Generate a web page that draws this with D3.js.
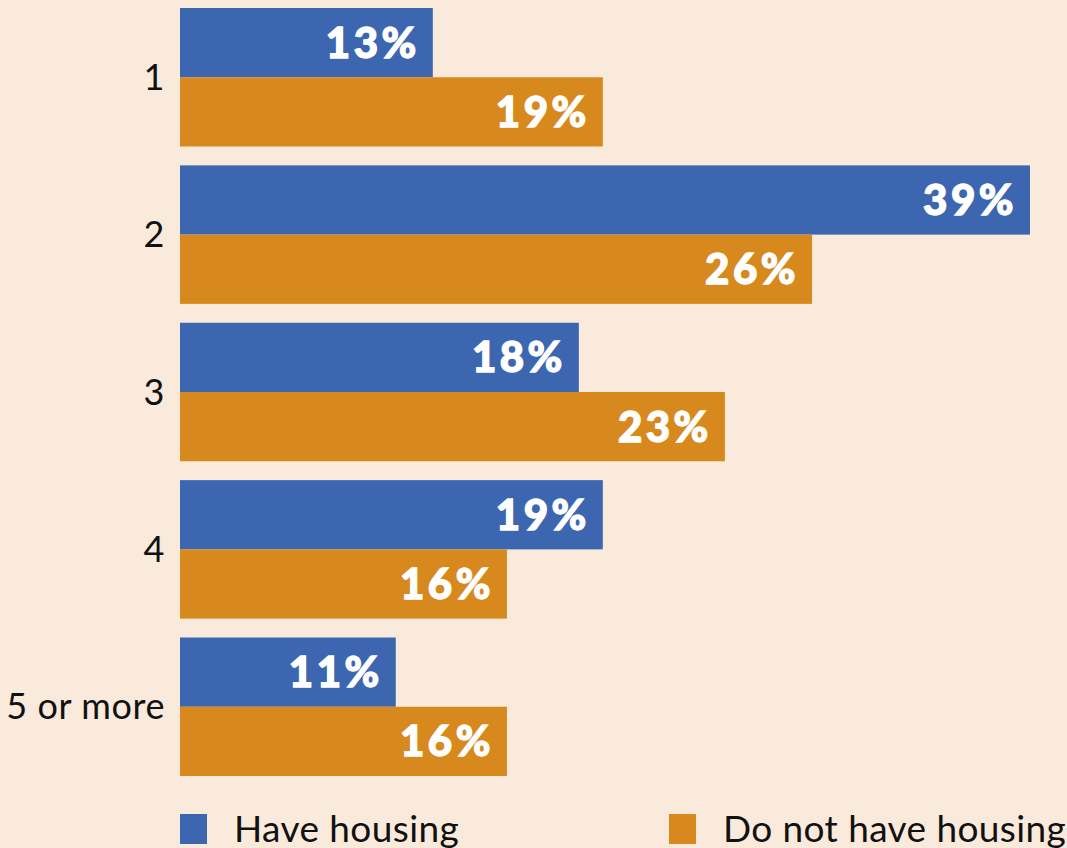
<!DOCTYPE html>
<html>
<head>
<meta charset="utf-8">
<script src="https://cdn.jsdelivr.net/npm/d3@7"></script>
<style>
  html, body { margin: 0; padding: 0; background: #f9eadb; }
  #chart svg { display: block; }
</style>
</head>
<body>
<div id="chart"></div>
<script>
// Categories and series
const categories = ["1", "2", "3", "4", "5 or more"]
const seriesNames = ["Have housing", "Do not have housing"]

// Bar lengths as drawn (the picture's bars are not exactly to the printed numbers)
const haveValues = [11.6, 39, 18.3, 19.4, 9.9]
const notHaveValues = [19.4, 29.0, 25.0, 15.0, 15.0]

// Printed labels
const haveLabels = [13, 39, 18, 19, 11]
const notHaveLabels = [19, 26, 23, 16, 16]

const colors = ["#3c67b0", "#d7891d"]

const width = 1067
const height = 848
const margin = { top: 8, left: 180, right: 37, bottom: 72 }

const svg = d3
  .select("#chart")
  .append("svg")
  .attr("width", width)
  .attr("height", height)

svg.append("rect").attr("width", width).attr("height", height).attr("fill", "#f9eadb")

// Scales setup
const xscale = d3.scaleLinear().domain([0, 39]).range([margin.left, width - margin.right])
const yscale = d3.scaleBand().domain(categories).range([margin.top, height - margin.bottom]).paddingInner(0.12)
const subscale = d3.scaleBand().domain(seriesNames).range([0, yscale.bandwidth()])

const rows = categories.map((c, i) => ({
  cat: c,
  bars: [
    { series: seriesNames[0], value: haveValues[i], label: haveLabels[i] },
    { series: seriesNames[1], value: notHaveValues[i], label: notHaveLabels[i] }
  ]
}))

const groups = svg
  .selectAll("g.group")
  .data(rows)
  .join("g")
  .attr("class", "group")
  .attr("transform", (d) => `translate(0,${yscale(d.cat)})`)

groups
  .selectAll("rect")
  .data((d) => d.bars)
  .join("rect")
  .attr("x", xscale(0))
  .attr("y", (d) => subscale(d.series))
  .attr("width", (d) => xscale(d.value) - xscale(0))
  .attr("height", subscale.bandwidth())
  .attr("fill", (d, i) => colors[i])

// Value labels, heavy white text near the bar end
groups
  .selectAll("text.val")
  .data((d) => d.bars)
  .join("text")
  .attr("class", "val")
  .attr("x", (d) => xscale(d.value) - 13)
  .attr("y", (d) => subscale(d.series) + subscale.bandwidth() / 2)
  .attr("dy", "0.36em")
  .attr("text-anchor", "end")
  .attr("fill", "#fff")
  .attr("stroke", "#fff")
  .attr("stroke-width", 1.3)
  .style("font-family", "Lato, 'Noto Sans', sans-serif")
  .style("font-weight", 900)
  .style("font-size", "42px")
  .style("letter-spacing", "3.5px")
  .text((d) => d.label + "%")

// Category labels
groups
  .append("text")
  .attr("x", margin.left - 15)
  .attr("y", yscale.bandwidth() / 2)
  .attr("dy", "0.35em")
  .attr("text-anchor", "end")
  .attr("fill", "#111")
  .style("font-family", "Lato, 'Noto Sans', sans-serif")
  .style("font-size", "36px")
  .style("letter-spacing", "0.6px")
  .text((d) => d.cat)

// Legend
const legendX = [margin.left, 669]
const legend = svg
  .selectAll("g.legend")
  .data(seriesNames)
  .join("g")
  .attr("class", "legend")
  .attr("transform", (d, i) => `translate(${legendX[i]},814)`)

legend.append("rect").attr("width", 27).attr("height", 30).attr("fill", (d, i) => colors[i])

legend
  .append("text")
  .attr("x", 54)
  .attr("y", 28)
  .attr("fill", "#111")
  .style("font-family", "Lato, 'Noto Sans', sans-serif")
  .style("font-size", "37px")
  .style("letter-spacing", "0.4px")
  .text((d) => d)
</script>
</body>
</html>
